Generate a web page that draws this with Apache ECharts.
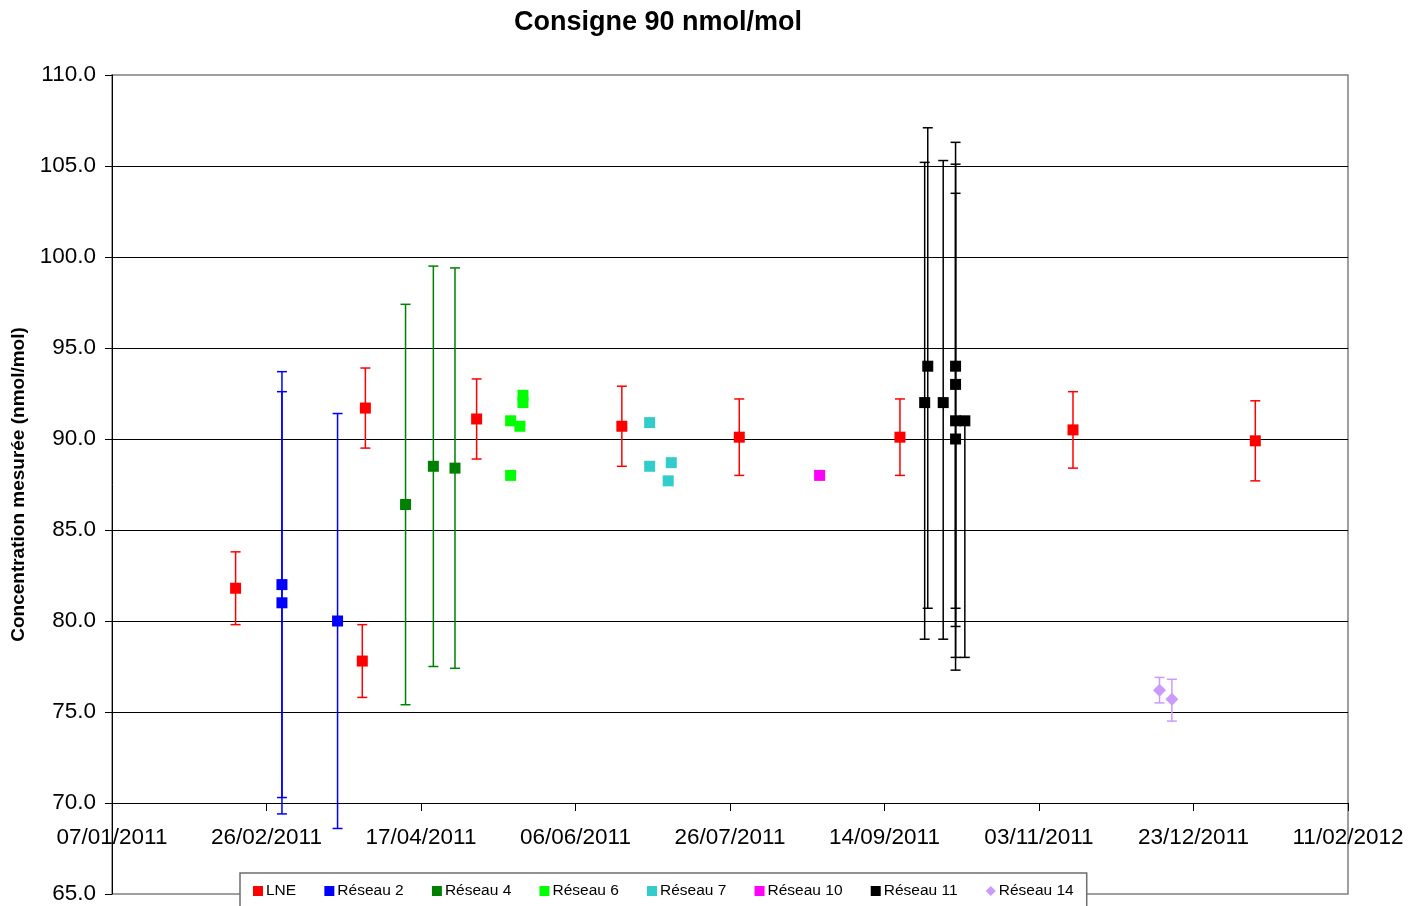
<!DOCTYPE html>
<html>
<head>
<meta charset="utf-8">
<script src="https://cdn.jsdelivr.net/npm/echarts@6/dist/echarts.min.js"></script>
<style>
html,body{margin:0;padding:0;background:#fff;}
#chart{width:1422px;height:906px;}
</style>
</head>
<body>
<div id="chart"></div>
<script>
// ---- data ----
const xTickStart = '2011-01-07';
const xTickEnd = '2012-02-11';
const xTickStepDays = 50;
const yTicks = [65, 110, 5];

const lneDates = ['2011-02-16','2011-03-30','2011-03-29','2011-05-05','2011-06-21','2011-07-29','2011-09-19','2011-11-14','2012-01-12'];
const lneValues = [81.8, 91.7, 77.8, 91.1, 90.7, 90.1, 90.1, 90.5, 89.9];
const lneLow = [79.8, 89.5, 75.8, 88.9, 88.5, 88.0, 88.0, 88.4, 87.7];
const lneHigh = [83.8, 93.9, 79.8, 93.3, 92.9, 92.2, 92.2, 92.6, 92.1];

const r2Dates = ['2011-03-03','2011-03-03','2011-03-21'];
const r2Values = [82.0, 81.0, 80.0];
const r2Low = [70.3, 69.4, 68.6];
const r2High = [93.7, 92.6, 91.4];

const r4Dates = ['2011-04-12','2011-04-21','2011-04-28'];
const r4Values = [86.4, 88.5, 88.4];
const r4Low = [75.4, 77.5, 77.4];
const r4High = [97.4, 99.5, 99.4];

const r6Dates = ['2011-05-16','2011-05-19','2011-05-20','2011-05-20','2011-05-16'];
const r6Values = [91.0, 90.7, 92.4, 92.0, 88.0];

const r7Dates = ['2011-06-30','2011-06-30','2011-07-07','2011-07-06'];
const r7Values = [90.9, 88.5, 88.7, 87.7];

const r10Dates = ['2011-08-24'];
const r10Values = [88.0];

const r11Dates = ['2011-09-28','2011-09-27','2011-10-03','2011-10-07','2011-10-07','2011-10-07','2011-10-07','2011-10-10'];
const r11Values = [94.0, 92.0, 92.0, 94.0, 93.0, 91.0, 90.0, 91.0];
const r11Low = [80.7, 79.0, 79.0, 80.7, 79.7, 77.3, 78.0, 78.0];
const r11High = [107.1, 105.2, 105.3, 106.3, 105.1, 103.5, 90.0, 91.0];

const r14Dates = ['2011-12-12','2011-12-16'];
const r14Values = [76.2, 75.7];
const r14Low = [75.5, 74.5];
const r14High = [76.9, 76.8];

// ---- helpers ----
const DAY = 86400000;
function parse(s){ const p = s.split('-').map(Number); return Date.UTC(p[0], p[1]-1, p[2]); }
const origin = parse(xTickStart);
function dayOf(s){ return Math.round((parse(s) - origin) / DAY); }
function fmtDay(d){
  const t = new Date(origin + d * DAY);
  const dd = String(t.getUTCDate()).padStart(2,'0');
  const mm = String(t.getUTCMonth()+1).padStart(2,'0');
  return dd + '/' + mm + '/' + t.getUTCFullYear();
}
function pts(dates, vals){ return dates.map((d,i)=>[dayOf(d), vals[i]]); }
function errs(dates, vals, lo, hi){ return dates.map((d,i)=>[dayOf(d), vals[i], lo[i], hi[i]]); }

const FONT = '"Liberation Sans", Arial, sans-serif';

function errSeries(name, color, data){
  return {
    type: 'custom', name: name, z: 2, silent: true,
    data: data,
    encode: { x: 0, y: [1,2,3] },
    renderItem: function(params, api){
      const x = api.value(0), v = api.value(1), lo = api.value(2), hi = api.value(3);
      const pLo = api.coord([x, lo]), pHi = api.coord([x, hi]);
      const cw = 5;
      const st = { stroke: color, lineWidth: 1.5 };
      const ch = [];
      ch.push({ type:'line', shape:{x1:pLo[0], y1:pLo[1], x2:pHi[0], y2:pHi[1]}, style: st });
      if (Math.abs(lo - v) > 1e-9) ch.push({ type:'line', shape:{x1:pLo[0]-cw, y1:pLo[1], x2:pLo[0]+cw, y2:pLo[1]}, style: st });
      if (Math.abs(hi - v) > 1e-9) ch.push({ type:'line', shape:{x1:pHi[0]-cw, y1:pHi[1], x2:pHi[0]+cw, y2:pHi[1]}, style: st });
      return { type:'group', children: ch };
    }
  };
}
function scat(name, color, data, symbol, size){
  return {
    type: 'scatter', name: name, z: 3,
    symbol: symbol || 'rect', symbolSize: size || 11,
    itemStyle: { color: color, opacity: 1 },
    data: data
  };
}

const C = {
  lne:'#FF0000', r2:'#0000FF', r4:'#008000', r6:'#00FF00', r7:'#33CCCC', r10:'#FF00FF', r11:'#000000', r14:'#CC99FF'
};

const chart = echarts.init(document.getElementById('chart'), null, { renderer: 'canvas' });
chart.setOption({
  backgroundColor: '#ffffff',
  animation: false,
  textStyle: { fontFamily: FONT },
  title: {
    text: 'Consigne 90 nmol/mol',
    left: 514, top: 9, padding: 0,
    textStyle: { fontFamily: FONT, fontSize: 27, fontWeight: 'bold', color: '#000' }
  },
  grid: {
    left: 112, right: 74, top: 75, bottom: 12,
    show: true, borderColor: '#808080', borderWidth: 1.5, backgroundColor: 'transparent'
  },
  xAxis: {
    type: 'value',
    min: 0, max: dayOf(xTickEnd), interval: xTickStepDays,
    offset: -91,
    axisLine: { show: true, onZero: false, lineStyle: { color: '#000', width: 1 } },
    axisTick: { show: true, length: 8, lineStyle: { color: '#000' } },
    axisLabel: { formatter: fmtDay, fontFamily: FONT, fontSize: 22.5, color: '#000', margin: 23, showMinLabel: true, showMaxLabel: true },
    splitLine: { show: false }
  },
  yAxis: {
    type: 'value',
    min: yTicks[0], max: yTicks[1], interval: yTicks[2],
    name: 'Concentration mesurée (nmol/mol)',
    nameLocation: 'middle', nameGap: 84, nameRotate: 90,
    nameTextStyle: { fontFamily: FONT, fontSize: 19, fontWeight: 'bold', color: '#000' },
    axisLine: { show: true, lineStyle: { color: '#000', width: 1 } },
    axisTick: { show: true, length: 7, lineStyle: { color: '#000' } },
    axisLabel: { formatter: v => v.toFixed(1), fontFamily: FONT, fontSize: 22.5, color: '#000', margin: 16 },
    splitLine: { show: true, showMinLine: false, showMaxLine: false, lineStyle: { color: '#000', width: 1 } }
  },
  legend: {
    left: 240, top: 873,
    padding: [10, 13, 12, 13],
    itemGap: 28.2, itemWidth: 10, itemHeight: 10,
    backgroundColor: '#ffffff', borderColor: '#6e6e6e', borderWidth: 1.5,
    textStyle: { fontFamily: FONT, fontSize: 15.5, color: '#000', padding: [0,0,0,-2] },
    z: 10,
    data: [
      { name: 'LNE', icon: 'rect' },
      { name: 'Réseau 2', icon: 'rect' },
      { name: 'Réseau 4', icon: 'rect' },
      { name: 'Réseau 6', icon: 'rect' },
      { name: 'Réseau 7', icon: 'rect' },
      { name: 'Réseau 10', icon: 'rect' },
      { name: 'Réseau 11', icon: 'rect' },
      { name: 'Réseau 14', icon: 'diamond' }
    ]
  },
  series: [
    errSeries('err LNE', C.lne, errs(lneDates, lneValues, lneLow, lneHigh)),
    errSeries('err R2', C.r2, errs(r2Dates, r2Values, r2Low, r2High)),
    errSeries('err R4', C.r4, errs(r4Dates, r4Values, r4Low, r4High)),
    errSeries('err R11', C.r11, errs(r11Dates, r11Values, r11Low, r11High)),
    errSeries('err R14', C.r14, errs(r14Dates, r14Values, r14Low, r14High)),
    scat('LNE', C.lne, pts(lneDates, lneValues)),
    scat('Réseau 2', C.r2, pts(r2Dates, r2Values)),
    scat('Réseau 4', C.r4, pts(r4Dates, r4Values)),
    scat('Réseau 6', C.r6, pts(r6Dates, r6Values)),
    scat('Réseau 7', C.r7, pts(r7Dates, r7Values)),
    scat('Réseau 10', C.r10, pts(r10Dates, r10Values)),
    scat('Réseau 11', C.r11, pts(r11Dates, r11Values)),
    scat('Réseau 14', C.r14, pts(r14Dates, r14Values), 'diamond', 13)
  ]
});
</script>
</body>
</html>
